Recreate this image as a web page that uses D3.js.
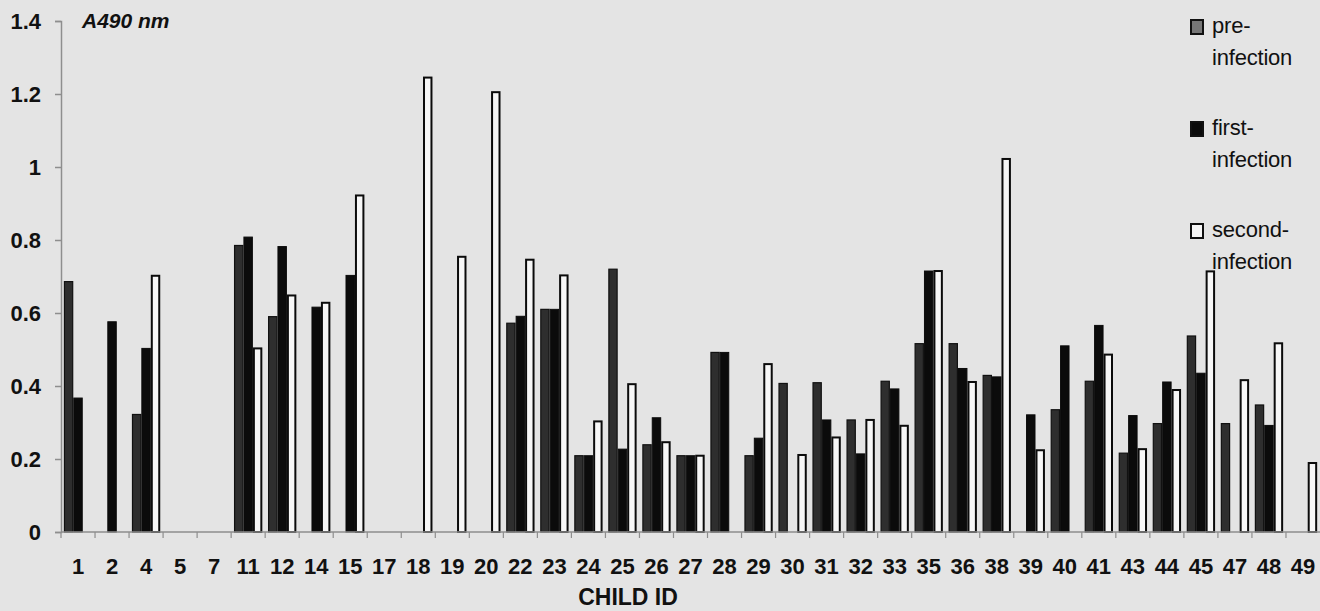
<!DOCTYPE html>
<html>
<head>
<meta charset="utf-8">
<script src="https://cdn.jsdelivr.net/npm/d3@7"></script>
<style>
  html, body { margin: 0; padding: 0; background: #e4e4e4; }
  svg { display: block; }
  text { font-family: "Liberation Sans", Arial, sans-serif; }
</style>
</head>
<body>
<div id="chart"></div>
<script>
const childIds = ["1","2","4","5","7","11","12","14","15","17","18","19","20","22","23","24","25","26","27","28","29","30","31","32","33","35","36","38","39","40","41","43","44","45","47","48","49"];

const preInfection = [0.686,null,0.322,null,null,0.785,0.59,null,null,null,null,null,null,0.572,0.61,0.209,0.72,0.239,0.209,0.492,0.209,0.407,0.409,0.307,0.413,0.516,0.516,0.429,null,0.335,0.413,0.216,0.297,0.537,0.297,0.348,null];
const firstInfection = [0.367,0.576,0.503,null,null,0.808,0.782,0.616,0.703,null,null,null,null,0.591,0.61,0.209,0.227,0.313,0.209,0.492,0.257,null,0.307,0.214,0.392,0.715,0.448,0.425,0.321,0.51,0.566,0.319,0.411,0.435,null,0.292,null];
const secondInfection = [null,null,0.702,null,null,0.503,0.648,0.628,0.922,null,1.245,0.754,1.205,0.746,0.703,0.303,0.405,0.246,0.209,null,0.46,0.211,0.259,0.307,0.291,0.715,0.411,1.022,0.224,null,0.486,0.227,0.389,0.714,0.416,0.517,0.189];

const seriesNames = ["pre-infection", "first-infection", "second-infection"];
const legendLabels = [["pre-", "infection"], ["first-", "infection"], ["second-", "infection"]];
const yTicks = [0, 0.2, 0.4, 0.6, 0.8, 1, 1.2, 1.4];

const W = 1320, H = 611;
const margin = { top: 21, right: 0, bottom: 79, left: 61 };

const svg = d3.select("#chart").append("svg")
  .attr("width", W)
  .attr("height", H);

const x = d3.scaleBand()
  .domain(childIds)
  .range([margin.left, W - margin.right])
  .paddingInner(0)
  .paddingOuter(0);

const xInner = d3.scaleBand()
  .domain(seriesNames)
  .range([0, x.bandwidth()])
  .paddingInner(0)
  .paddingOuter(0.3);

const y = d3.scaleLinear()
  .domain([0, 1.4])
  .range([H - margin.bottom, margin.top]);

const styles = {
  "pre-infection": { fill: "#2e2e2e", stroke: "#111", sw: 1.2 },
  "first-infection": { fill: "#0b0b0b", stroke: "#0b0b0b", sw: 1 },
  "second-infection": { fill: "#f7f7f7", stroke: "#0b0b0b", sw: 2 }
};

const rows = [];
childIds.forEach((id, i) => {
  [preInfection, firstInfection, secondInfection].forEach((arr, s) => {
    if (arr[i] != null) rows.push({ id, series: seriesNames[s], value: arr[i] });
  });
});

// bars
svg.append("g").selectAll("rect")
  .data(rows)
  .join("rect")
  .attr("x", d => x(d.id) + xInner(d.series) + styles[d.series].sw / 2)
  .attr("y", d => y(d.value))
  .attr("width", d => xInner.bandwidth() - styles[d.series].sw)
  .attr("height", d => y(0) - y(d.value))
  .attr("fill", d => styles[d.series].fill)
  .attr("stroke", d => styles[d.series].stroke)
  .attr("stroke-width", d => styles[d.series].sw);

// y axis
const yAxis = svg.append("g")
  .attr("transform", `translate(${margin.left},0)`)
  .call(d3.axisLeft(y).tickValues(yTicks).tickSize(6).tickPadding(14).tickFormat(d => d));
yAxis.select(".domain").attr("stroke", "#8e8e8e").attr("stroke-width", 1.5);
yAxis.selectAll(".tick line").attr("stroke", "#8e8e8e").attr("stroke-width", 1.5);
yAxis.selectAll(".tick text")
  .attr("fill", "#111")
  .style("font-size", "22px")
  .style("font-weight", "bold")
  .style("font-family", "'Liberation Sans', Arial, sans-serif");

// x axis baseline and ticks between categories
const xAxisG = svg.append("g").attr("transform", `translate(0,${y(0)})`);
xAxisG.append("line")
  .attr("x1", margin.left).attr("x2", W)
  .attr("stroke", "#8e8e8e").attr("stroke-width", 1.5);
xAxisG.selectAll(".sep")
  .data(childIds)
  .join("line")
  .attr("class", "sep")
  .attr("x1", d => x(d)).attr("x2", d => x(d))
  .attr("y1", 0).attr("y2", 6)
  .attr("stroke", "#8e8e8e").attr("stroke-width", 1.2);
xAxisG.selectAll(".lbl")
  .data(childIds)
  .join("text")
  .attr("class", "lbl")
  .attr("x", d => x(d) + x.bandwidth() / 2)
  .attr("y", 42)
  .attr("text-anchor", "middle")
  .attr("fill", "#111")
  .style("font-size", "22px")
  .style("font-weight", "bold")
  .text(d => d);

// axis titles
svg.append("text")
  .attr("x", 82)
  .attr("y", 28)
  .attr("fill", "#111")
  .style("font-size", "21px")
  .style("font-weight", "bold")
  .style("font-style", "italic")
  .text("A490 nm");

svg.append("text")
  .attr("x", 628)
  .attr("y", 605)
  .attr("text-anchor", "middle")
  .attr("fill", "#111")
  .style("font-size", "23px")
  .style("font-weight", "bold")
  .text("CHILD ID");

// legend
const legend = svg.append("g").attr("transform", "translate(1190,19)");
seriesNames.forEach((name, i) => {
  const g = legend.append("g").attr("transform", `translate(0,${i * 102})`);
  g.append("rect")
    .attr("x", 1).attr("y", 1)
    .attr("width", 12).attr("height", 14)
    .attr("fill", name === "pre-infection" ? "#777" : styles[name].fill)
    .attr("stroke", "#111")
    .attr("stroke-width", 2);
  g.append("text")
    .attr("x", 22).attr("y", 14)
    .attr("fill", "#111")
    .style("font-size", "22px")
    .style("letter-spacing", "-0.2px")
    .text(legendLabels[i][0]);
  g.append("text")
    .attr("x", 22).attr("y", 46)
    .attr("fill", "#111")
    .style("font-size", "22px")
    .style("letter-spacing", "-0.2px")
    .text(legendLabels[i][1]);
});
</script>
</body>
</html>
